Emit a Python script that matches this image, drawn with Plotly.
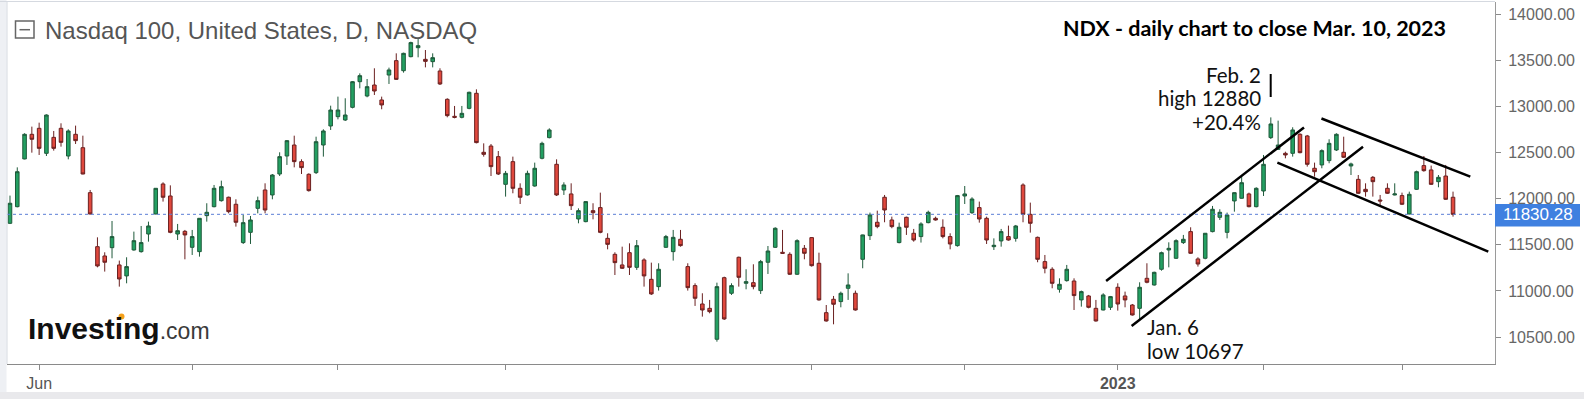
import pandas as pd
import plotly.graph_objects as go

# ---------------- data ----------------
holidays = ["2022-05-30", "2022-06-20", "2022-07-04", "2022-09-05", "2022-11-24",
            "2022-12-26", "2023-01-02", "2023-01-16", "2023-02-20"]
dates = [d.strftime("%Y-%m-%d") for d in pd.bdate_range("2022-05-25", "2023-03-10")
         if d.strftime("%Y-%m-%d") not in holidays]

open_ = [11733, 11913, 12430, 12697, 12762, 12491, 12664, 12762, 12462, 12697,
         12552, 12065, 11480, 11379, 11469, 11282, 11163, 11444, 11426, 11617,
         11834, 12159, 12029, 11617, 11646, 11473, 11426, 11816, 11913, 11978,
         12015, 11939, 11524, 11635, 11895, 12094, 12040, 12267, 12462, 12581,
         12401, 12264, 12282, 12581, 12787, 12888, 12852, 12989, 13267, 13112,
         13231, 13069, 13339, 13495, 13386, 13538, 13635, 13509, 13484, 13383,
         13076, 12892, 12881, 12978, 13141, 12502, 12570, 12455, 12155, 12401,
         12112, 12040, 12137, 12437, 12661, 12372, 12094, 12051, 11780, 11751,
         11870, 11903, 11570, 11397, 11282, 11415, 11256, 11336, 11126, 11047,
         11473, 11426, 11560, 11264, 11058, 10859, 10812, 10477, 11144, 10975,
         11365, 11083, 11090, 11004, 11311, 11473, 11419, 11397, 11181, 11462,
         11578, 11300, 10765, 10910, 10885, 11029, 10975, 11343, 11599, 11744,
         12015, 11769, 11524, 11798, 11625, 11589, 11740, 11787, 11690, 11589,
         11491, 12029, 11848, 11903, 11787, 11480, 11542, 11589, 11570, 12148,
         11830, 11581, 11318, 11235, 11018, 11112, 11108, 10903, 10946, 10812,
         10794, 10823, 11040, 10946, 10848, 10812, 11137, 11065, 11235, 11444,
         11354, 11524, 11643, 11347, 11354, 11643, 11798, 11635, 11975, 12004,
         12051, 11913, 12083, 12661, 12534, 12491, 12491, 12697, 12679, 12329,
         12365, 12412, 12527, 12502, 12354, 12209, 12101, 12231, 11985, 12112,
         12040, 12033, 11834, 12101, 12358, 12311, 12184, 12245, 12015]
high = [12033, 12339, 12708, 12780, 12823, 12913, 12733, 12816, 12751, 12791,
        12682, 12094, 11581, 11419, 11758, 11329, 11365, 11643, 11704, 11751,
        12115, 12177, 12144, 11726, 11661, 11661, 11790, 11950, 12148, 12195,
        12022, 11993, 11823, 11812, 12022, 12166, 12267, 12502, 12635, 12682,
        12426, 12274, 12671, 12751, 13007, 13105, 13087, 13274, 13357, 13296,
        13412, 13105, 13419, 13574, 13581, 13700, 13736, 13610, 13574, 13412,
        13087, 13004, 13004, 13159, 13184, 12599, 12592, 12516, 12300, 12455,
        12166, 12303, 12390, 12617, 12762, 12426, 12177, 12166, 11895, 11970,
        11950, 12065, 11625, 11419, 11480, 11516, 11552, 11354, 11307, 11300,
        11607, 11661, 11661, 11300, 11083, 10975, 10903, 11090, 11155, 11083,
        11372, 11235, 11289, 11336, 11487, 11690, 11661, 11419, 11560, 11498,
        11581, 11415, 10848, 10946, 10993, 11191, 11004, 11610, 11849, 11870,
        12040, 11805, 11740, 11805, 11672, 11744, 11870, 11805, 11776, 11625,
        12040, 12137, 12015, 11968, 11805, 11570, 11672, 11708, 11715, 12166,
        11957, 11589, 11390, 11257, 11137, 11282, 11137, 11004, 10957, 10903,
        10975, 10946, 11083, 10993, 10859, 11094, 11300, 11209, 11426, 11527,
        11560, 11607, 11690, 11365, 11628, 11921, 11885, 11849, 12068, 12245,
        12065, 12123, 12473, 12880, 12845, 12509, 12773, 12708, 12690, 12390,
        12534, 12643, 12708, 12671, 12390, 12256, 12166, 12245, 12040, 12166,
        12166, 12065, 12076, 12303, 12462, 12358, 12256, 12365, 12076]
low = [11725, 11906, 12426, 12498, 12473, 12462, 12520, 12563, 12426, 12592,
       12264, 11830, 11256, 11210, 11354, 11047, 11083, 11437, 11415, 11534,
       11830, 11968, 11625, 11552, 11343, 11390, 11372, 11751, 11906, 11968,
       11841, 11697, 11509, 11509, 11841, 11841, 11993, 12245, 12365, 12339,
       12267, 12076, 12267, 12455, 12744, 12859, 12841, 12978, 13195, 13098,
       13123, 12968, 13242, 13285, 13365, 13531, 13531, 13422, 13422, 13231,
       12881, 12870, 12870, 12968, 12599, 12455, 12245, 12256, 12022, 12058,
       11942, 12033, 12130, 12426, 12653, 12029, 12040, 11877, 11733, 11744,
       11776, 11625, 11451, 11173, 11238, 11173, 11228, 11047, 10957, 11004,
       11466, 11329, 11480, 11004, 10838, 10722, 10758, 10451, 10686, 10957,
       11047, 11018, 11018, 10968, 11184, 11466, 11401, 11173, 11173, 11343,
       11264, 10895, 10668, 10639, 10823, 10903, 10787, 11246, 11552, 11679,
       11744, 11679, 11516, 11607, 11534, 11524, 11733, 11762, 11570, 11451,
       11480, 11942, 11834, 11740, 11509, 11444, 11480, 11545, 11534, 11744,
       11632, 11311, 11191, 11029, 10982, 11101, 10794, 10830, 10812, 10668,
       10790, 10794, 10787, 10823, 10733, 10697, 11083, 11058, 11220, 11256,
       11347, 11509, 11401, 11264, 11343, 11635, 11769, 11570, 11859, 12000,
       11906, 11906, 12029, 12646, 12527, 12437, 12455, 12491, 12347, 12238,
       12329, 12383, 12516, 12440, 12256, 12051, 12022, 12022, 11931, 12051,
       12035, 11931, 11830, 12094, 12292, 12148, 12123, 11986, 11805]
close = [11950, 12292, 12697, 12643, 12545, 12906, 12545, 12610, 12733, 12628,
         12267, 11834, 11271, 11311, 11589, 11130, 11264, 11545, 11524, 11704,
         12112, 12015, 11635, 11653, 11607, 11589, 11787, 11852, 12112, 12130,
         11859, 11744, 11740, 11769, 11978, 11877, 12256, 12455, 12628, 12401,
         12336, 12087, 12617, 12733, 12960, 12960, 12906, 13267, 13332, 13213,
         13166, 13015, 13394, 13292, 13574, 13690, 13657, 13487, 13527, 13242,
         12899, 12881, 12924, 13152, 12607, 12480, 12347, 12267, 12274, 12112,
         12015, 12274, 12329, 12599, 12744, 12040, 12148, 11924, 11870, 11968,
         11848, 11635, 11505, 11307, 11246, 11256, 11491, 11163, 10968, 11235,
         11589, 11581, 11491, 11036, 10921, 10794, 10776, 11047, 10697, 11058,
         11148, 11101, 11047, 11318, 11433, 11679, 11408, 11181, 11545, 11408,
         11274, 10903, 10675, 10856, 10975, 11065, 10794, 11607, 11823, 11697,
         11877, 11697, 11690, 11690, 11552, 11726, 11852, 11769, 11589, 11509,
         12033, 12051, 11996, 11780, 11552, 11495, 11643, 11552, 11704, 11830,
         11733, 11343, 11246, 11083, 11072, 11235, 10950, 10993, 10823, 10675,
         10957, 10939, 10859, 10903, 10740, 11040, 11094, 11202, 11415, 11462,
         11545, 11560, 11408, 11292, 11625, 11885, 11852, 11823, 12065, 12173,
         11913, 12112, 12372, 12809, 12581, 12473, 12744, 12498, 12372, 12292,
         12520, 12599, 12697, 12448, 12376, 12058, 12076, 12184, 11975, 12058,
         12051, 11939, 12047, 12292, 12303, 12155, 12231, 11993, 11830.28]

last_close = close[-1]
month_labels = ["Jun", "", "", "", "", "", "", "2023", "", ""]
y_ticks = [10500, 11000, 11500, 12000, 12500, 13000, 13500, 14000]

# analyst trend lines (index, price) end points
asc_upper = [(150.4, 11108), (177.55, 12771)]
asc_lower = [(153.9, 10621), (185.65, 12563)]
desc_upper = [(179.95, 12868), (200.37, 12238)]
desc_lower = [(173.9, 12390), (202.84, 11426)]

feb_note = ["Feb. 2", "high 12880", "+20.4%"]
jan_note = ["Jan. 6", "low 10697"]

# ---------------- figure ----------------
W, H = 1584, 399
L, R, T, B = 7, 1495, 2, 364


def px(x):
    return (x - L) / (R - L)


def py(y):
    return (B - y) / (B - T)


idx = list(range(len(dates)))
month_pos, seen = [], set()
for i, d in enumerate(dates):
    m = d[:7]
    if m not in seen:
        seen.add(m)
        if m != "2022-05":
            month_pos.append(i)
tick_text = [("<b>%s</b>" % t if t == "2023" else t) for t in month_labels]

fig = go.Figure()
fig.add_trace(go.Candlestick(
    x=idx, open=open_, high=high, low=low, close=close,
    increasing=dict(fillcolor="#23a062", line=dict(color="#1f5a3b", width=1)),
    decreasing=dict(fillcolor="#e0483d", line=dict(color="#6b2020", width=1)),
    whiskerwidth=0, showlegend=False, hoverinfo="skip",
))

shapes = []
shapes.append(dict(type="line", xref="paper", yref="y", x0=0, x1=1,
                   y0=last_close, y1=last_close,
                   line=dict(color="#5b7fd6", width=1, dash="dot")))
for seg in (asc_upper, asc_lower, desc_upper, desc_lower):
    shapes.append(dict(type="line", xref="x", yref="y",
                       x0=seg[0][0], y0=seg[0][1], x1=seg[1][0], y1=seg[1][1],
                       line=dict(color="black", width=2.5)))
shapes.append(dict(type="line", xref="paper", yref="paper",
                   x0=px(1270.7), x1=px(1270.7), y0=py(74), y1=py(97),
                   line=dict(color="black", width=2)))
shapes.append(dict(type="line", xref="paper", yref="paper", x0=px(0), x1=1,
                   y0=py(1.5), y1=py(1.5), line=dict(color="#d5d9e0", width=1)))
shapes.append(dict(type="line", xref="paper", yref="paper", x0=0, x1=0,
                   y0=0, y1=py(1.5), line=dict(color="#d5d9e0", width=1)))
shapes.append(dict(type="rect", xref="paper", yref="paper", x0=px(0), x1=px(6.5),
                   y0=py(399), y1=py(0), fillcolor="#eef0f4", line=dict(width=0),
                   layer="below"))
shapes.append(dict(type="rect", xref="paper", yref="paper", x0=px(0), x1=px(1584),
                   y0=py(399), y1=py(392), fillcolor="#e9e9ec", line=dict(width=0)))
shapes.append(dict(type="rect", xref="paper", yref="paper", x0=px(15.5), x1=px(34),
                   y0=py(38), y1=py(21), line=dict(color="#666", width=1.5)))
shapes.append(dict(type="line", xref="paper", yref="paper", x0=px(19.5), x1=px(30),
                   y0=py(29.7), y1=py(29.7), line=dict(color="#666", width=1.5)))
shapes.append(dict(type="rect", xref="paper", yref="paper", x0=px(1495), x1=px(1580),
                   y0=py(226.5), y1=py(204), fillcolor="#3f80e0", line=dict(width=0)))
shapes.append(dict(type="circle", xref="paper", yref="paper", x0=px(118.5), x1=px(124.5),
                   y0=py(319.5), y1=py(313.5), fillcolor="#f5a01a", line=dict(width=0)))

ann = []
ann.append(dict(text="Nasdaq 100, United States, D, NASDAQ", xref="paper", yref="paper",
                x=px(43), y=py(31), xanchor="left", yanchor="middle", showarrow=False,
                font=dict(family="Liberation Sans, Arial", size=24, color="#555")))
ann.append(dict(text="<b>Investing</b><span style='font-size:23px;color:#3a3a3a'>.com</span>",
                xref="paper", yref="paper", x=px(26), y=py(328), xanchor="left",
                yanchor="middle", showarrow=False,
                font=dict(family="Liberation Sans, Arial", size=30, color="#111")))
ann.append(dict(text="<b>NDX - daily chart to close Mar. 10, 2023</b>", xref="paper",
                yref="paper", x=px(1254), y=py(28), xanchor="center", yanchor="middle",
                showarrow=False, font=dict(family="Lato", size=21.5, color="black")))
for k, (t, yc) in enumerate(zip(feb_note, [75, 98.5, 122])):
    ann.append(dict(text=t, xref="paper", yref="paper", x=px(1263), y=py(yc),
                    xanchor="right", yanchor="middle", showarrow=False,
                    font=dict(family="Lato", size=20.5, color="#111")))
for k, (t, yc) in enumerate(zip(jan_note, [327, 351])):
    ann.append(dict(text=t, xref="paper", yref="paper", x=px(1145), y=py(yc),
                    xanchor="left", yanchor="middle", showarrow=False,
                    font=dict(family="Lato", size=20.5, color="#111")))
ann.append(dict(text="%.2f" % last_close, xref="paper", yref="y", x=px(1538),
                y=last_close, xanchor="center", yanchor="middle", showarrow=False,
                font=dict(family="Liberation Sans, Arial", size=17, color="white")))

fig.update_layout(
    width=W, height=H, autosize=False,
    margin=dict(l=L, r=W - R, t=T, b=H - B, pad=0),
    paper_bgcolor="white", plot_bgcolor="white",
    shapes=shapes, annotations=ann,
    xaxis=dict(type="linear", range=[-0.41, 203.76], rangeslider=dict(visible=False),
               showgrid=False, zeroline=False, showline=True, linecolor="#8a8a8a",
               linewidth=1, ticks="outside", ticklen=5, tickcolor="#8a8a8a",
               tickvals=month_pos, ticktext=tick_text,
               tickfont=dict(family="Liberation Sans, Arial", size=16, color="#555")),
    yaxis=dict(side="right", range=[10209, 14130], showgrid=False, zeroline=False,
               showline=True, linecolor="#9a9a9a", linewidth=1, ticks="outside",
               ticklen=5, tickcolor="#8a8a8a", tickvals=y_ticks,
               ticktext=["%.2f" % v for v in y_ticks], ticklabelstandoff=4,
               tickfont=dict(family="Liberation Sans, Arial", size=16, color="#666")),
)

fig.write_html("out.html", config={"displayModeBar": False},
               post_script="document.body.style.margin='0px';"
                           "document.body.style.overflow='hidden';")
